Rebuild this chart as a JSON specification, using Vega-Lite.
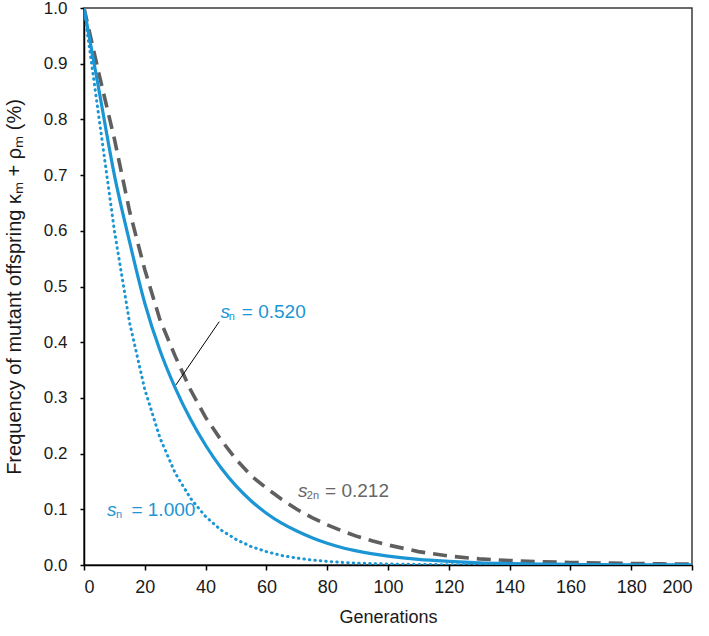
{
  "$schema": "https://vega.github.io/schema/vega-lite/v6.json",
  "autosize": "none",
  "width": 608,
  "height": 557,
  "padding": {"left": 84, "top": 8, "right": 17, "bottom": 71},
  "background": "white",
  "config": {
    "font": "Liberation Sans",
    "view": {"stroke": "#3a3a3a", "strokeWidth": 1.5},
    "axis": {
      "grid": false,
      "domainColor": "#000000",
      "domainWidth": 1.5,
      "tickColor": "#000000",
      "tickWidth": 1.5,
      "labelColor": "#1a1a1a",
      "titleColor": "#1a1a1a",
      "labelFont": "Liberation Sans",
      "titleFont": "Liberation Sans",
      "titleFontWeight": "normal"
    }
  },
  "datasets": {
    "curves": [
      {"gen": 0, "s520": 1.0, "s1000": 1.0, "s212": 1.0},
      {"gen": 5, "s520": 0.85, "s1000": 0.80, "s212": 0.88},
      {"gen": 10, "s520": 0.70, "s1000": 0.60, "s212": 0.765},
      {"gen": 15, "s520": 0.58, "s1000": 0.435, "s212": 0.635},
      {"gen": 20, "s520": 0.47, "s1000": 0.315, "s212": 0.53},
      {"gen": 25, "s520": 0.385, "s1000": 0.228, "s212": 0.44},
      {"gen": 30, "s520": 0.318, "s1000": 0.165, "s212": 0.375},
      {"gen": 35, "s520": 0.262, "s1000": 0.12, "s212": 0.315},
      {"gen": 40, "s520": 0.215, "s1000": 0.087, "s212": 0.265},
      {"gen": 45, "s520": 0.175, "s1000": 0.063, "s212": 0.225},
      {"gen": 50, "s520": 0.142, "s1000": 0.046, "s212": 0.19},
      {"gen": 55, "s520": 0.115, "s1000": 0.033, "s212": 0.16},
      {"gen": 60, "s520": 0.093, "s1000": 0.024, "s212": 0.138},
      {"gen": 65, "s520": 0.075, "s1000": 0.017, "s212": 0.118},
      {"gen": 70, "s520": 0.061, "s1000": 0.0125, "s212": 0.10},
      {"gen": 75, "s520": 0.049, "s1000": 0.009, "s212": 0.085},
      {"gen": 80, "s520": 0.039, "s1000": 0.0065, "s212": 0.072},
      {"gen": 85, "s520": 0.031, "s1000": 0.0047, "s212": 0.061},
      {"gen": 90, "s520": 0.025, "s1000": 0.0034, "s212": 0.051},
      {"gen": 95, "s520": 0.020, "s1000": 0.0025, "s212": 0.043},
      {"gen": 100, "s520": 0.016, "s1000": 0.0018, "s212": 0.036},
      {"gen": 110, "s520": 0.010, "s1000": 0.001, "s212": 0.024},
      {"gen": 120, "s520": 0.0065, "s1000": 0.0005, "s212": 0.016},
      {"gen": 130, "s520": 0.004, "s1000": 0.0003, "s212": 0.011},
      {"gen": 140, "s520": 0.0026, "s1000": 0.0002, "s212": 0.008},
      {"gen": 150, "s520": 0.0016, "s1000": 0.0001, "s212": 0.006},
      {"gen": 160, "s520": 0.001, "s1000": 0.0001, "s212": 0.0045},
      {"gen": 170, "s520": 0.0006, "s1000": 0.0, "s212": 0.0035},
      {"gen": 180, "s520": 0.0004, "s1000": 0.0, "s212": 0.0027},
      {"gen": 190, "s520": 0.0003, "s1000": 0.0, "s212": 0.002},
      {"gen": 200, "s520": 0.0002, "s1000": 0.0, "s212": 0.0015}
    ],
    "pointer": [
      {"gen": 30.2, "v": 0.323},
      {"gen": 44.5, "v": 0.437}
    ],
    "labels": [
      {"gen": 44.9, "v": 0.4435, "s": "s", "sub": "n", "subgen": 47.6, "subv": 0.4395, "rest": "= 0.520", "restgen": 51.9, "color": "blue"},
      {"gen": 7.6, "v": 0.088, "s": "s", "sub": "n", "subgen": 10.5, "subv": 0.084, "rest": "= 1.000", "restgen": 15.6, "color": "blue"},
      {"gen": 70.4, "v": 0.1226, "s": "s", "sub": "2n", "subgen": 73.3, "subv": 0.1176, "rest": "= 0.212", "restgen": 79.3, "color": "gray"}
    ]
  },
  "layer": [
    {
      "data": {"name": "curves"},
      "mark": {"type": "line", "color": "#5f5f5f", "strokeWidth": 3.6, "strokeDash": [14, 8], "clip": true},
      "encoding": {
        "x": {"field": "gen", "type": "quantitative", "scale": {"domain": [0, 200]},
          "axis": {"values": [0, 20, 40, 60, 80, 100, 120, 140, 160, 180, 200], "title": "Generations",
            "labelFontSize": 18, "titleFontSize": 18, "tickSize": 5, "labelPadding": 8, "titlePadding": 12}},
        "y": {"field": "s212", "type": "quantitative", "scale": {"domain": [0, 1]},
          "axis": {"values": [0, 0.1, 0.2, 0.3, 0.4, 0.5, 0.6, 0.7, 0.8, 0.9, 1.0], "format": ".1f",
            "title": "Frequency of mutant offspring κₘ + ρₘ (%)",
            "labelFontSize": 17, "titleFontSize": 20, "tickSize": 4, "labelPadding": 13, "titlePadding": 19}}
      }
    },
    {
      "data": {"name": "curves"},
      "mark": {"type": "line", "color": "#1b95d3", "strokeWidth": 3, "strokeDash": [0.5, 5], "strokeCap": "round", "clip": true},
      "encoding": {
        "x": {"field": "gen", "type": "quantitative"},
        "y": {"field": "s1000", "type": "quantitative"}
      }
    },
    {
      "data": {"name": "curves"},
      "mark": {"type": "line", "color": "#1b95d3", "strokeWidth": 3.2, "clip": true, "interpolate": "monotone"},
      "encoding": {
        "x": {"field": "gen", "type": "quantitative"},
        "y": {"field": "s520", "type": "quantitative"}
      }
    },
    {
      "data": {"name": "pointer"},
      "mark": {"type": "line", "color": "#000000", "strokeWidth": 1},
      "encoding": {
        "x": {"field": "gen", "type": "quantitative"},
        "y": {"field": "v", "type": "quantitative"}
      }
    },
    {
      "data": {"name": "labels"},
      "mark": {"type": "text", "align": "left", "baseline": "alphabetic", "fontSize": 19, "fontStyle": "italic"},
      "encoding": {
        "x": {"field": "gen", "type": "quantitative"},
        "y": {"field": "v", "type": "quantitative"},
        "text": {"field": "s"},
        "color": {"field": "color", "type": "nominal", "scale": {"domain": ["blue", "gray"], "range": ["#1b95d3", "#666666"]}, "legend": null}
      }
    },
    {
      "data": {"name": "labels"},
      "mark": {"type": "text", "align": "left", "baseline": "alphabetic", "fontSize": 11},
      "encoding": {
        "x": {"field": "subgen", "type": "quantitative"},
        "y": {"field": "subv", "type": "quantitative"},
        "text": {"field": "sub"},
        "color": {"field": "color", "type": "nominal", "legend": null}
      }
    },
    {
      "data": {"name": "labels"},
      "mark": {"type": "text", "align": "left", "baseline": "alphabetic", "fontSize": 19},
      "encoding": {
        "x": {"field": "restgen", "type": "quantitative"},
        "y": {"field": "v", "type": "quantitative"},
        "text": {"field": "rest"},
        "color": {"field": "color", "type": "nominal", "legend": null}
      }
    }
  ]
}
